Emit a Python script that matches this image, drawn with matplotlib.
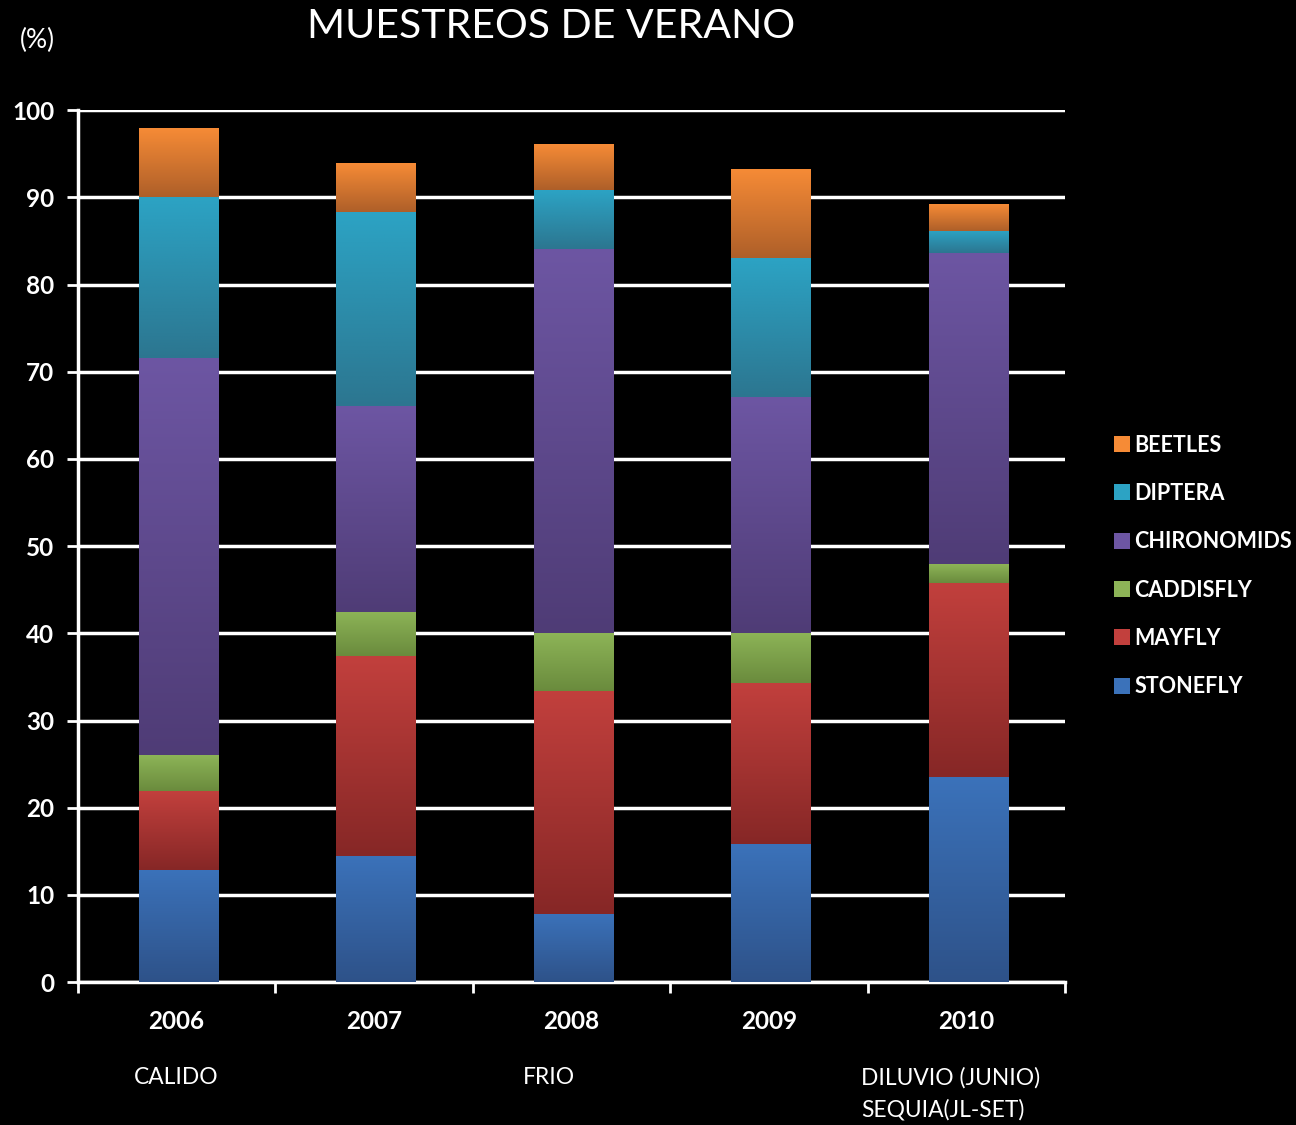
import matplotlib
matplotlib.use('Agg')
import matplotlib.pyplot as plt
import numpy as np
from matplotlib.colors import LinearSegmentedColormap

plt.rcParams['font.family'] = ['Lato', 'DejaVu Sans']

# datos (%)
years = ['2006', '2007', '2008', '2009', '2010']
stonefly = [12.9, 14.5, 7.8, 15.8, 23.5]
mayfly = [9.0, 22.9, 25.6, 18.5, 22.3]
caddisfly = [4.1, 5.1, 6.6, 5.8, 2.1]
chironomids = [45.6, 23.6, 44.1, 27.0, 35.7]
diptera = [18.4, 22.2, 6.7, 15.9, 2.6]
beetles = [7.8, 5.6, 5.2, 10.1, 3.0]
season_notes = ['CALIDO', '', 'FRIO', '', 'DILUVIO (JUNIO)\nSEQUIA(JL-SET)']
note_shift = [-31, 0, -35, 0, -76]   # desplazamiento horizontal (pt)

series = [('STONEFLY', stonefly, '#3B72BA', '#2E5289'),
          ('MAYFLY', mayfly, '#C2403D', '#862726'),
          ('CADDISFLY', caddisfly, '#8DB457', '#6A8B3D'),
          ('CHIRONOMIDS', chironomids, '#6D56A3', '#4F3C76'),
          ('DIPTERA', diptera, '#2CA3C4', '#2C7690'),
          ('BEETLES', beetles, '#F68B36', '#AE5F29')]

fig = plt.figure(figsize=(12.96, 11.25), dpi=100, facecolor='black')
ax = fig.add_axes([0.060, 0.127, 0.762, 0.775])
ax.set_facecolor('black')

x = np.arange(len(years))
bottom = np.zeros(len(years))
handles = []
for name, vals, top_c, bot_c in series:
    bars = ax.bar(x + 0.012, vals, 0.405, bottom=bottom, color=top_c, label=name, zorder=2)
    cmap = LinearSegmentedColormap.from_list(name, [bot_c, top_c])
    grad = np.linspace(0, 1, 256).reshape(-1, 1)
    for b in bars:
        ax.imshow(grad, cmap=cmap, origin='lower', aspect='auto', zorder=3,
                  extent=[b.get_x(), b.get_x() + b.get_width(),
                          b.get_y(), b.get_y() + b.get_height()])
    handles.append(bars)
    bottom += np.array(vals)

ax.set_xlim(-0.5, len(years) - 0.5)
ax.set_ylim(0, 100)
ax.set_yticks(range(0, 101, 10))
ax.yaxis.grid(True, color='white', linewidth=2.5, zorder=1)
ax.set_axisbelow(True)

ax.set_xticks(x)
ax.set_xticklabels(years)
ax.set_xticks(np.arange(-0.5, len(years)), minor=True)
ax.tick_params(axis='x', which='major', length=0, pad=20, labelsize=17.5, colors='white')
ax.tick_params(axis='x', which='minor', length=8, width=2, colors='white')
ax.tick_params(axis='y', length=8, width=2, colors='white', labelsize=17.5, pad=9)
for lab in ax.get_xticklabels() + ax.get_yticklabels():
    lab.set_fontweight('bold')

for s in ['top', 'right']:
    ax.spines[s].set_visible(False)
for s in ['left', 'bottom']:
    ax.spines[s].set_color('white')
    ax.spines[s].set_linewidth(2.5)

fig.text(0.425, 0.976, 'MUESTREOS DE VERANO', color='white', fontsize=29.5,
         ha='center', va='center')
fig.text(0.029, 0.964, '(%)', color='white', fontsize=19, ha='center', va='center')

for i, note in enumerate(season_notes):
    if note:
        ax.annotate(note, xy=(x[i], 0), xycoords=('data', 'axes fraction'),
                    xytext=(note_shift[i], -61), textcoords='offset points',
                    color='white', fontsize=16.4, ha='left', va='top',
                    linespacing=1.6)

leg = fig.legend(handles[::-1], [h.get_label() for h in handles[::-1]],
                 loc='center left', bbox_to_anchor=(0.853, 0.497),
                 frameon=False, labelspacing=1.27, handlelength=0.75,
                 handleheight=0.75, handletextpad=0.2, borderaxespad=0,
                 prop={'weight': 'bold', 'size': 15.5})
for t in leg.get_texts():
    t.set_color('white')

fig.savefig('out.png', dpi=100, facecolor='black')
